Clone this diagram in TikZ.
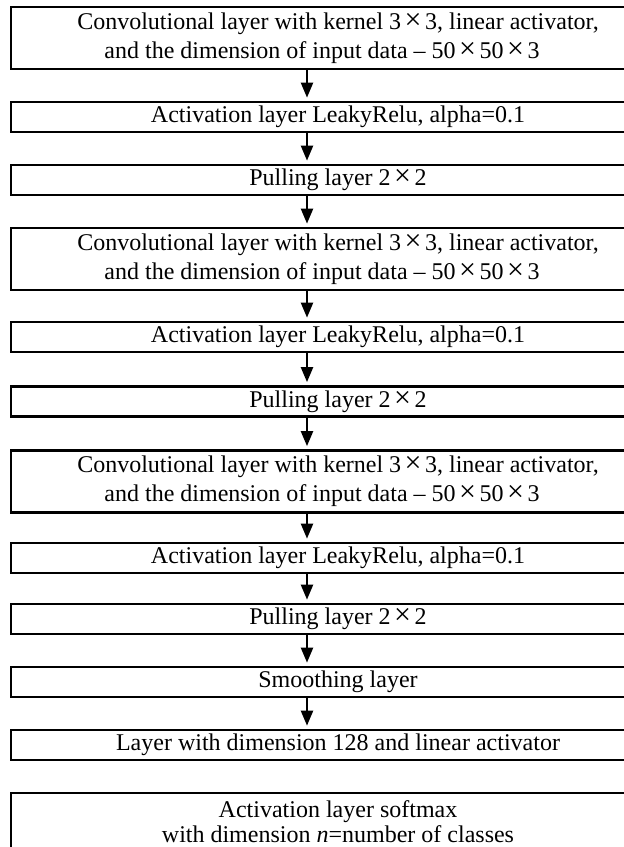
\documentclass[tikz,border=0pt]{standalone}
\usepackage{fontspec}
\setmainfont{Liberation Serif}
\usetikzlibrary{arrows.meta}
\newcommand{\bycross}{\hspace{3.5pt}{\fontsize{30}{30}\selectfont ×}\hspace{3.5pt}}
\tikzset{
    layer-box/.style = {draw, line width=2.7pt, rectangle, minimum width=654pt, minimum height=30pt, inner sep=0pt, align=center, font=\fontsize{24}{29}\selectfont},
    layer-box-tall/.style = {layer-box, minimum height=62pt},
    flow-arrow/.style = {line width=2.2pt, -{Triangle[width=12pt,length=15pt]}, shorten >=3pt},
}

\begin{document}
\begin{tikzpicture}[x=1pt,y=-1pt]
\useasboundingbox (0,0) rectangle (624,847);
\coordinate (spine) at (307,0);
\node [layer-box-tall] (conv1) at (338,38) {Convolutional layer with kernel 3\bycross3, linear activator,\\and the dimension of input data -- 50\bycross50\bycross3\hspace*{32pt}};
\node [layer-box] (act1) at (338,117) {Activation layer LeakyRelu, alpha=0.1};
\node [layer-box] (pool1) at (338,180) {Pulling layer 2\bycross2};
\node [layer-box-tall] (conv2) at (338,259) {Convolutional layer with kernel 3\bycross3, linear activator,\\and the dimension of input data -- 50\bycross50\bycross3\hspace*{32pt}};
\node [layer-box] (act2) at (338,337) {Activation layer LeakyRelu, alpha=0.1};
\node [layer-box] (pool2) at (338,401.5) {Pulling layer 2\bycross2};
\node [layer-box-tall] (conv3) at (338,481.5) {Convolutional layer with kernel 3\bycross3, linear activator,\\and the dimension of input data -- 50\bycross50\bycross3\hspace*{32pt}};
\node [layer-box] (act3) at (338,558) {Activation layer LeakyRelu, alpha=0.1};
\node [layer-box] (pool3) at (338,619) {Pulling layer 2\bycross2};
\node [layer-box] (smooth) at (338,682) {Smoothing layer};
\node [layer-box] (dense) at (338,745) {Layer with dimension 128 and linear activator};
\node [layer-box, minimum height=58pt, font=\fontsize{24}{25}\selectfont] (softmax) at (338,822) {Activation layer softmax\\with dimension \textit{n}=number of classes};
\foreach \from/\to in {conv1/act1, act1/pool1, pool1/conv2, conv2/act2, act2/pool2, pool2/conv3, conv3/act3, act3/pool3, pool3/smooth, smooth/dense}
    \draw [flow-arrow] (\from.south -| spine) -- (\to.north -| spine);
\end{tikzpicture}
\end{document}
